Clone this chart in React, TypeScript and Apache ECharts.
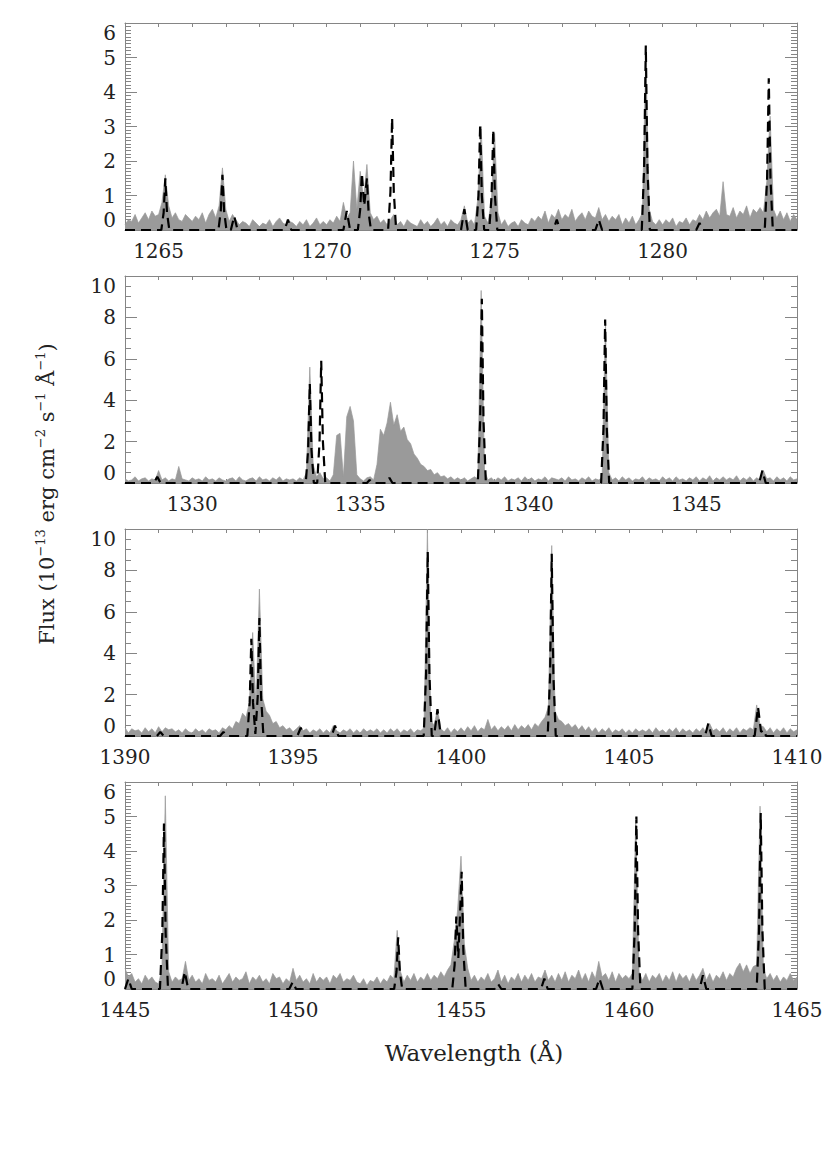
import React, { useEffect, useRef } from "react";
import * as echarts from "echarts";

// ---------- data ----------
const panelStarts = [1264, 1328, 1390, 1445];
const panelEnds = [1284, 1348, 1410, 1465];
const yMaxes = [6, 10, 10, 6];
const yIntervals = [1, 2, 2, 1];
const yMinorSplits = [10, 4, 4, 10];
const sampleStep = 0.1;

// observed flux (grey), sampled every 0.1 Å from the panel start
const obs1 = [
  0.15, 0.3, 0.25, 0.45, 0.2, 0.35, 0.5, 0.3, 0.55, 0.4,
  0.45, 0.8, 1.6, 0.7, 0.35, 0.5, 0.3, 0.25, 0.45, 0.35,
  0.25, 0.4, 0.3, 0.5, 0.2, 0.45, 0.6, 0.35, 0.7, 1.8,
  0.6, 0.25, 0.45, 0.3, 0.15, 0.25, 0.2, 0.1, 0.3, 0.2,
  0.1, 0.2, 0.15, 0.3, 0.1, 0.25, 0.35, 0.2, 0.15, 0.25,
  0.2, 0.1, 0.25, 0.15, 0.3, 0.1, 0.2, 0.35, 0.15, 0.25,
  0.15, 0.3, 0.2, 0.4, 0.25, 0.8, 0.35, 0.5, 2.0, 0.6,
  1.7, 0.9, 1.9, 0.5, 0.3, 0.4, 0.2, 0.3, 0.15, 0.3,
  0.45, 0.15, 0.25, 0.1, 0.3, 0.2, 0.15, 0.1, 0.3, 0.15,
  0.25, 0.1, 0.2, 0.35, 0.15, 0.25, 0.1, 0.3, 0.2, 0.15,
  0.3, 0.7, 0.2, 0.3, 0.15, 0.9, 3.0, 0.4, 0.2, 0.8,
  2.8, 0.5, 0.15, 0.3, 0.1, 0.2, 0.25, 0.1, 0.3, 0.2,
  0.15, 0.35, 0.25, 0.4, 0.3, 0.55, 0.2, 0.45, 0.35, 0.6,
  0.3, 0.45, 0.35, 0.6, 0.25, 0.4, 0.5, 0.3, 0.55, 0.4,
  0.35, 0.65, 0.3, 0.45, 0.25, 0.4, 0.3, 0.45, 0.15, 0.35,
  0.2, 0.4, 0.15, 0.3, 0.5, 5.1, 0.6, 0.25, 0.15, 0.3,
  0.15, 0.3, 0.2, 0.35, 0.1, 0.25, 0.2, 0.35, 0.15, 0.3,
  0.25, 0.45, 0.3, 0.55, 0.35, 0.5, 0.6, 0.4, 1.4, 0.45,
  0.4, 0.65, 0.35, 0.55, 0.45, 0.7, 0.35, 0.6, 0.5, 0.65,
  0.5, 1.4, 3.3, 0.6, 0.35, 0.55, 0.3, 0.5, 0.25, 0.45,
  0.3,
];

const obs2 = [
  0.2, 0.1, 0.15, 0.3, 0.1, 0.2, 0.25, 0.1, 0.2, 0.15,
  0.6, 0.15, 0.25, 0.1, 0.2, 0.15, 0.8, 0.2, 0.15, 0.1,
  0.25, 0.15, 0.2, 0.1, 0.3, 0.15, 0.2, 0.1, 0.25, 0.15,
  0.1, 0.2, 0.25, 0.1, 0.3, 0.15, 0.1, 0.2, 0.25, 0.1,
  0.3, 0.15, 0.2, 0.1, 0.25, 0.15, 0.3, 0.1, 0.2, 0.15,
  0.2, 0.1, 0.25, 0.15, 0.5, 5.6, 0.9, 0.3, 0.5, 0.2,
  0.25, 0.1, 0.4, 2.3, 2.4, 0.3, 3.2, 3.7, 3.0, 0.4,
  0.2, 0.1, 0.25, 0.3, 0.15, 0.9, 2.6, 2.3, 2.9, 3.9,
  2.8, 3.3, 2.5, 2.7, 2.1, 1.9, 1.4, 1.2, 0.9, 0.8,
  0.6, 0.65, 0.4, 0.5, 0.3, 0.35, 0.2, 0.3, 0.15, 0.25,
  0.15, 0.25, 0.1, 0.2, 0.3, 0.2, 9.3, 0.6, 0.15, 0.25,
  0.1, 0.25, 0.15, 0.3, 0.1, 0.2, 0.15, 0.25, 0.1, 0.3,
  0.15, 0.25, 0.1, 0.2, 0.15, 0.3, 0.1, 0.25, 0.2, 0.15,
  0.25, 0.1, 0.3, 0.15, 0.2, 0.1, 0.25, 0.15, 0.3, 0.1,
  0.2, 0.15, 0.25, 7.8, 0.5, 0.15, 0.25, 0.1, 0.3, 0.15,
  0.25, 0.1, 0.2, 0.15, 0.3, 0.1, 0.25, 0.15, 0.2, 0.1,
  0.3, 0.15, 0.25, 0.1, 0.3, 0.15, 0.2, 0.1, 0.25, 0.15,
  0.3, 0.1, 0.25, 0.15, 0.35, 0.1, 0.25, 0.15, 0.3, 0.15,
  0.25, 0.15, 0.35, 0.1, 0.25, 0.15, 0.3, 0.1, 0.25, 0.15,
  0.6, 0.2, 0.25, 0.1, 0.3, 0.15, 0.25, 0.1, 0.3, 0.15,
  0.2,
];

const obs3 = [
  0.4, 0.15, 0.35, 0.25, 0.3, 0.15, 0.4, 0.2, 0.35, 0.15,
  0.45, 0.2, 0.4, 0.3, 0.35, 0.2, 0.3, 0.15, 0.35, 0.2,
  0.15, 0.35, 0.2, 0.3, 0.15, 0.35, 0.25, 0.3, 0.15, 0.4,
  0.3, 0.5, 0.35, 0.7, 0.6, 1.1, 0.9, 1.6, 5.0, 1.4,
  7.1, 1.8, 1.2, 1.0, 0.6, 0.7, 0.4, 0.5, 0.3, 0.4,
  0.2, 0.35, 0.5, 0.25, 0.35, 0.15, 0.3, 0.2, 0.35, 0.15,
  0.3, 0.15, 0.5, 0.25, 0.15, 0.3, 0.2, 0.35, 0.15, 0.3,
  0.15, 0.35, 0.2, 0.3, 0.2, 0.35, 0.15, 0.3, 0.15, 0.35,
  0.2, 0.35, 0.15, 0.3, 0.2, 0.35, 0.15, 0.3, 0.25, 0.4,
  10.0, 0.8, 0.5, 1.3, 0.35, 0.2, 0.4, 0.15, 0.35, 0.2,
  0.4, 0.2, 0.45, 0.25, 0.5, 0.2, 0.4, 0.3, 0.8, 0.3,
  0.5, 0.25, 0.45, 0.3, 0.5, 0.25, 0.55, 0.3, 0.5, 0.35,
  0.55, 0.3, 0.6, 0.45, 0.7, 0.9, 1.4, 9.2, 1.2, 0.8,
  0.7, 0.5, 0.6, 0.4, 0.55, 0.3, 0.5, 0.25, 0.45, 0.2,
  0.4, 0.15, 0.35, 0.2, 0.4, 0.15, 0.3, 0.2, 0.35, 0.15,
  0.3, 0.15, 0.35, 0.2, 0.3, 0.2, 0.35, 0.15, 0.4, 0.2,
  0.3, 0.15, 0.35, 0.2, 0.4, 0.15, 0.35, 0.2, 0.3, 0.15,
  0.35, 0.2, 0.4, 0.15, 0.6, 0.25, 0.35, 0.2, 0.4, 0.15,
  0.35, 0.2, 0.4, 0.15, 0.35, 0.25, 0.4, 0.3, 1.5, 0.5,
  0.45, 0.2, 0.4, 0.15, 0.35, 0.2, 0.4, 0.15, 0.35, 0.2,
  0.3,
];

const obs4 = [
  0.6, 0.35, 0.45, 0.2, 0.3, 0.15, 0.4, 0.25, 0.35, 0.2,
  0.15, 0.6, 5.6, 0.5, 0.2, 0.35, 0.25, 0.3, 0.8, 0.25,
  0.4, 0.2, 0.3, 0.15, 0.45, 0.25, 0.3, 0.2, 0.4, 0.15,
  0.3, 0.45, 0.2, 0.35, 0.25, 0.3, 0.5, 0.15, 0.35, 0.25,
  0.4, 0.2, 0.3, 0.15, 0.45, 0.3, 0.35, 0.15, 0.3, 0.2,
  0.6, 0.25, 0.4, 0.2, 0.3, 0.15, 0.45, 0.2, 0.35, 0.25,
  0.35, 0.15, 0.4, 0.3, 0.45, 0.2, 0.3, 0.25, 0.4, 0.2,
  0.15, 0.3, 0.1, 0.25, 0.2, 0.35, 0.15, 0.3, 0.2, 0.4,
  0.3, 1.7, 0.5, 0.2, 0.4, 0.25, 0.45, 0.2, 0.35, 0.25,
  0.45, 0.25, 0.4, 0.3, 0.5, 0.35, 0.55, 0.7, 1.4, 2.3,
  3.85, 1.3, 0.6, 0.25, 0.4, 0.2, 0.35, 0.25, 0.45, 0.2,
  0.3, 0.55, 0.2, 0.4, 0.15, 0.35, 0.25, 0.45, 0.2, 0.4,
  0.25, 0.45, 0.2, 0.35, 0.3, 0.55, 0.25, 0.4, 0.2, 0.45,
  0.25, 0.5, 0.2, 0.4, 0.3, 0.55, 0.25, 0.45, 0.2, 0.5,
  0.3, 0.8, 0.35, 0.45, 0.25, 0.5, 0.2, 0.45, 0.3, 0.4,
  0.3, 0.45, 4.9, 0.5, 0.25, 0.45, 0.2, 0.4, 0.3, 0.45,
  0.2, 0.4, 0.25, 0.5, 0.2, 0.45, 0.3, 0.4, 0.2, 0.45,
  0.25, 0.4, 0.6, 0.25, 0.45, 0.2, 0.4, 0.3, 0.5, 0.25,
  0.45, 0.35, 0.6, 0.75, 0.5, 0.7, 0.45, 0.65, 0.7, 5.3,
  0.6, 0.3, 0.45, 0.25, 0.4, 0.2, 0.35, 0.25, 0.45, 0.25,
  0.35,
];

// model line profiles (dashed), [wavelength, flux]
const model1 = [
  [1264.0, 0],
  [1265.08, 0], [1265.15, 0.5], [1265.2, 1.5], [1265.25, 0.5], [1265.32, 0],
  [1266.78, 0], [1266.85, 0.55], [1266.9, 1.6], [1266.95, 0.55], [1267.02, 0],
  [1267.15, 0], [1267.25, 0.4], [1267.35, 0],
  [1268.75, 0], [1268.85, 0.3], [1268.95, 0],
  [1270.5, 0], [1270.6, 0.55], [1270.7, 0],
  [1270.93, 0], [1271.0, 0.6], [1271.05, 1.65], [1271.12, 0.7], [1271.2, 1.5], [1271.25, 0.5], [1271.32, 0],
  [1271.83, 0], [1271.9, 1.1], [1271.95, 3.25], [1272.0, 1.1], [1272.07, 0],
  [1274.0, 0], [1274.1, 0.6], [1274.2, 0],
  [1274.45, 0], [1274.52, 1.0], [1274.57, 3.05], [1274.62, 1.0], [1274.69, 0],
  [1274.84, 0], [1274.91, 1.0], [1274.96, 2.9], [1275.01, 1.0], [1275.08, 0],
  [1276.75, 0], [1276.85, 0.3], [1276.95, 0],
  [1278.0, 0], [1278.1, 0.3], [1278.2, 0],
  [1279.38, 0], [1279.45, 1.8], [1279.5, 5.35], [1279.55, 1.8], [1279.62, 0],
  [1281.0, 0], [1281.1, 0.2], [1281.2, 0],
  [1283.04, 0], [1283.11, 1.5], [1283.16, 4.4], [1283.21, 1.5], [1283.28, 0],
  [1284.0, 0],
];

const model2 = [
  [1328.0, 0],
  [1328.86, 0], [1328.96, 0.3], [1329.06, 0],
  [1333.38, 0], [1333.45, 1.6], [1333.5, 4.8], [1333.55, 1.6], [1333.62, 0],
  [1333.72, 0], [1333.79, 2.0], [1333.84, 5.9], [1333.89, 2.0], [1333.96, 0],
  [1335.2, 0], [1335.28, 0.15], [1335.36, 0],
  [1335.78, 0], [1335.87, 0.25], [1335.96, 0],
  [1338.5, 0], [1338.57, 3.0], [1338.62, 8.9], [1338.67, 3.0], [1338.74, 0],
  [1342.17, 0], [1342.24, 2.6], [1342.29, 7.9], [1342.34, 2.6], [1342.41, 0],
  [1346.87, 0], [1346.97, 0.6], [1347.07, 0],
  [1348.0, 0],
];

const model3 = [
  [1390.0, 0],
  [1390.95, 0], [1391.05, 0.2], [1391.15, 0],
  [1392.83, 0], [1392.93, 0.2], [1393.03, 0],
  [1393.64, 0], [1393.71, 1.6], [1393.76, 4.7], [1393.81, 1.6], [1393.88, 0.1],
  [1393.95, 1.9], [1394.0, 5.7], [1394.05, 1.9], [1394.12, 0],
  [1395.13, 0], [1395.23, 0.4], [1395.33, 0],
  [1396.15, 0], [1396.25, 0.5], [1396.35, 0],
  [1398.89, 0], [1398.96, 3.0], [1399.01, 8.9], [1399.06, 3.0], [1399.13, 0],
  [1399.2, 0], [1399.3, 1.3], [1399.4, 0],
  [1402.58, 0], [1402.65, 2.9], [1402.7, 8.8], [1402.75, 2.9], [1402.82, 0],
  [1407.26, 0], [1407.36, 0.6], [1407.46, 0],
  [1408.74, 0], [1408.84, 1.4], [1408.93, 0.2], [1409.0, 0.3], [1409.08, 0],
  [1410.0, 0],
];

const model4 = [
  [1445.0, 0], [1445.1, 0.3], [1445.2, 0],
  [1446.04, 0], [1446.11, 1.6], [1446.16, 4.8], [1446.21, 1.6], [1446.28, 0],
  [1446.68, 0], [1446.78, 0.5], [1446.88, 0],
  [1449.89, 0], [1449.99, 0.2], [1450.09, 0],
  [1453.01, 0], [1453.08, 0.5], [1453.13, 1.5], [1453.18, 0.5], [1453.25, 0],
  [1454.74, 0], [1454.81, 0.7], [1454.86, 2.1], [1454.92, 0.9], [1455.02, 3.4], [1455.07, 1.1], [1455.14, 0],
  [1456.0, 0], [1456.1, 0.15], [1456.2, 0],
  [1457.38, 0], [1457.48, 0.3], [1457.58, 0],
  [1459.02, 0], [1459.12, 0.3], [1459.22, 0],
  [1460.1, 0], [1460.17, 1.7], [1460.22, 5.0], [1460.27, 1.7], [1460.34, 0],
  [1462.1, 0], [1462.2, 0.4], [1462.3, 0],
  [1463.8, 0], [1463.87, 1.7], [1463.92, 5.1], [1463.97, 1.7], [1464.04, 0],
  [1465.0, 0],
];

const observed = [obs1, obs2, obs3, obs4];
const models = [model1, model2, model3, model4];

const xTitle = "Wavelength (Å)";

// ---------- layout / style ----------
const gridTops = [23, 276, 529, 782];
const gridLeft = 125;
const gridWidth = 672;
const gridHeight = 207;
const FONT = "'DejaVu Serif', 'Liberation Serif', serif";
const AXIS = "#858585";
const TEXT = "#222";
const GREY = "#9a9a9a";

function buildOption() {
  const grid: any[] = [];
  const xAxis: any[] = [];
  const yAxis: any[] = [];
  const series: any[] = [];

  for (let i = 0; i < 4; i++) {
    grid.push({ left: gridLeft, top: gridTops[i], width: gridWidth, height: gridHeight, containLabel: false });
    const xBase = {
      type: "value",
      gridIndex: i,
      min: panelStarts[i],
      max: panelEnds[i],
      interval: 1,
      splitLine: { show: false },
      axisLine: { show: true, onZero: false, lineStyle: { color: AXIS, width: 1 } },
      axisTick: { show: true, inside: true, length: 4, lineStyle: { color: AXIS, width: 1 } },
    };
    xAxis.push({
      ...xBase,
      position: "bottom",
      axisLabel: {
        show: true,
        margin: 11,
        fontFamily: FONT,
        fontSize: 20,
        color: TEXT,
        formatter: (v: number) => (Math.round(v) % 5 === 0 ? String(Math.round(v)) : ""),
      },
    });
    xAxis.push({ ...xBase, position: "top", axisLabel: { show: false } });

    const yBase = {
      type: "value",
      gridIndex: i,
      min: 0,
      max: yMaxes[i],
      interval: yIntervals[i],
      splitLine: { show: false },
      minorSplitLine: { show: false },
      axisLine: { show: true, onZero: false, lineStyle: { color: AXIS, width: 1 } },
      axisTick: { show: true, inside: true, length: 12, lineStyle: { color: AXIS, width: 1 } },
      minorTick: { show: true, splitNumber: yMinorSplits[i], length: 6, lineStyle: { color: AXIS, width: 1 } },
    };
    yAxis.push({
      ...yBase,
      position: "left",
      axisLabel: {
        show: true,
        margin: 9,
        fontFamily: FONT,
        fontSize: 20,
        color: TEXT,
        verticalAlignMinLabel: "bottom",
        verticalAlignMaxLabel: "top",
      },
    });
    yAxis.push({ ...yBase, position: "right", axisLabel: { show: false } });

    const obs = observed[i];
    const obsData = obs.map((y, k) => [Math.round((panelStarts[i] + k * sampleStep) * 100) / 100, y]);
    series.push({
      type: "line",
      xAxisIndex: 2 * i,
      yAxisIndex: 2 * i,
      data: obsData,
      symbol: "none",
      silent: true,
      lineStyle: { color: GREY, width: 0.7 },
      areaStyle: { color: GREY, opacity: 1 },
      z: 2,
    });
    series.push({
      type: "line",
      xAxisIndex: 2 * i,
      yAxisIndex: 2 * i,
      data: models[i],
      symbol: "none",
      silent: true,
      clip: false,
      lineStyle: { color: "#000", width: 2.2, type: [10, 6] },
      z: 3,
    });
  }

  const graphic = [
    {
      type: "text",
      x: 47,
      y: 494,
      rotation: Math.PI / 2,
      style: {
        text: "{n|Flux (10}{s|−13}{n| erg cm}{s|−2}{n| s}{s|−1}{n| Å}{s|−1}{n|)}",
        align: "center",
        verticalAlign: "middle",
        fill: TEXT,
        rich: {
          n: { fontFamily: FONT, fontSize: 21, lineHeight: 26, fill: TEXT, verticalAlign: "middle" },
          s: { fontFamily: FONT, fontSize: 13, lineHeight: 13, fill: TEXT, verticalAlign: "top" },
        },
      },
    },
    {
      type: "text",
      x: 474,
      y: 1053,
      style: {
        text: xTitle,
        fontFamily: FONT,
        fontSize: 23,
        fill: TEXT,
        align: "center",
        verticalAlign: "middle",
      },
    },
  ];

  return {
    animation: false,
    backgroundColor: "#ffffff",
    grid,
    xAxis,
    yAxis,
    series,
    graphic,
  };
}

export default function App() {
  const ref = useRef<HTMLDivElement>(null);
  useEffect(() => {
    document.body.style.margin = "0";
    if (!ref.current) return;
    const chart = echarts.init(ref.current, undefined, { renderer: "svg" });
    chart.setOption(buildOption() as any);
    return () => chart.dispose();
  }, []);
  return (
    <div
      ref={ref}
      style={{ position: "absolute", left: 0, top: 0, width: 830, height: 1150, background: "#fff" }}
    />
  );
}
